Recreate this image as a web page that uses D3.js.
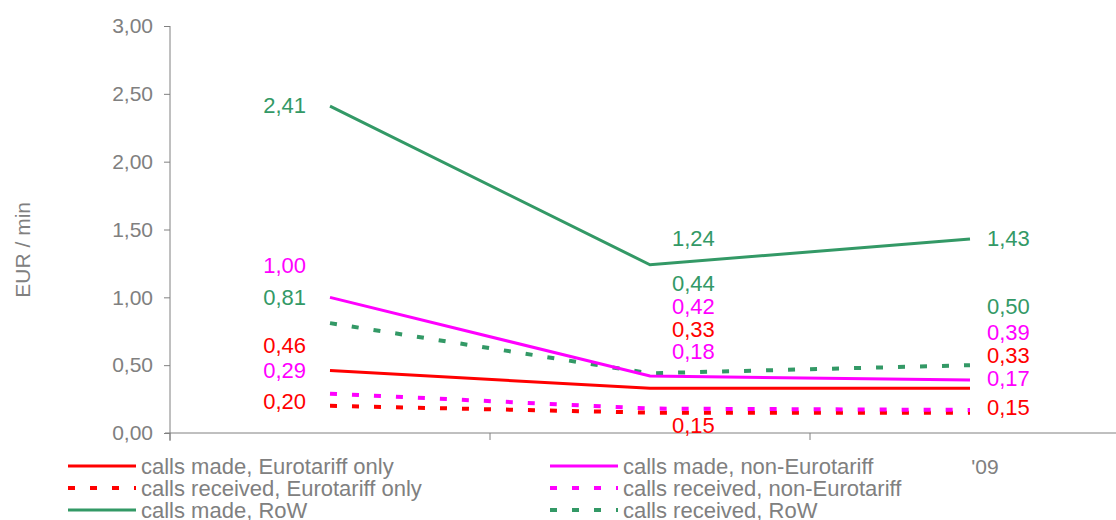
<!DOCTYPE html>
<html>
<head>
<meta charset="utf-8">
<script src="https://cdn.jsdelivr.net/npm/d3@7"></script>
<style>
  body { margin: 0; background: #fff; }
  text { font-family: "Liberation Sans", Arial, sans-serif; }
</style>
</head>
<body>
<div id="chart"></div>
<script>
// categories (only the last one is visible in the original, the others sit under the legend)
var categories = ["'07", "'08", "'09"];

var madeEuro = [0.46, 0.33, 0.33];
var receivedEuro = [0.20, 0.15, 0.15];
var madeNonEuro = [1.00, 0.42, 0.39];
var receivedNonEuro = [0.29, 0.18, 0.17];
var madeRow = [2.41, 1.24, 1.43];
var receivedRow = [0.81, 0.44, 0.50];

var seriesNames = [
  'calls made, Eurotariff only',
  'calls received, Eurotariff only',
  'calls made, RoW',
  'calls made, non-Eurotariff',
  'calls received, non-Eurotariff',
  'calls received, RoW'
];

var yTicks = [0, 0.5, 1, 1.5, 2, 2.5, 3];

var width = 1116,
    height = 520;

var palette = {
  red: '#ff0000',
  magenta: '#ff00ff',
  green: '#339966',
  gray: '#808080'
}

var series = [
  { name: seriesNames[0], values: madeEuro, color: palette.red, dashed: false },
  { name: seriesNames[1], values: receivedEuro, color: palette.red, dashed: true },
  { name: seriesNames[2], values: madeRow, color: palette.green, dashed: false },
  { name: seriesNames[3], values: madeNonEuro, color: palette.magenta, dashed: false },
  { name: seriesNames[4], values: receivedNonEuro, color: palette.magenta, dashed: true },
  { name: seriesNames[5], values: receivedRow, color: palette.green, dashed: true }
];

// label nudges (px) so stacked value labels don't collide, same order as series
var labelDy = [
  [-26, -59, -33],
  [-5, 12, -6],
  [-1, -27, -1],
  [-32, -70, -48],
  [-24, -58, -32],
  [-26, -90, -59]
];

var xScale = d3.scaleBand()
    .domain(categories)
    .range([170, 1130])
    .padding(0);

var yScale = d3.scaleLinear()
    .domain([0, 3])
    .range([433, 26]);

var svg = d3.select('#chart').append('svg')
    .attr('width', width)
    .attr('height', height)

// y axis
var yAxis = d3.axisLeft(yScale)
    .tickValues(yTicks)
    .tickSize(6)
    .tickPadding(11)
    .tickFormat(function(d) { return d3.format('.2f')(d).replace('.', ','); });

var gy = svg.append('g')
    .attr('transform', 'translate(' + xScale.range()[0] + ',0)')
    .call(yAxis);
gy.select('.domain').remove();
gy.selectAll('line').attr('stroke', palette.gray);
gy.selectAll('text')
    .attr('fill', palette.gray)
    .style('font-size', '21px');
gy.append('line')
    .attr('x1', 0).attr('x2', 0)
    .attr('y1', yScale(3)).attr('y2', yScale(0) + 8)
    .attr('stroke', palette.gray);

// x axis (ticks at the band edges)
var xEdges = categories.map(function(c) { return xScale(c); }).concat([xScale.range()[1]]);
svg.append('line')
    .attr('x1', xScale.range()[0] - 5).attr('x2', width)
    .attr('y1', yScale(0)).attr('y2', yScale(0))
    .attr('stroke', palette.gray);
svg.selectAll('.xtick')
    .data(xEdges)
    .enter()
    .append('line')
    .attr('class', 'xtick')
    .attr('x1', function(d) { return d; })
    .attr('x2', function(d) { return d; })
    .attr('y1', yScale(0))
    .attr('y2', yScale(0) + 7)
    .attr('stroke', palette.gray);

svg.append('text')
    .attr('transform', 'translate(30,' + (yScale(1.35)) + ') rotate(-90)')
    .attr('text-anchor', 'middle')
    .attr('fill', palette.gray)
    .style('font-size', '21px')
    .text('EUR / min');

var cx = function(i) { return xScale(categories[i]) + xScale.bandwidth() / 2; };

var line = d3.line()
    .x(function(d, i) { return cx(i); })
    .y(function(d) { return yScale(d); });

// dashed first, then solid on top
var drawOrder = [1, 4, 5, 0, 3, 2];
drawOrder.forEach(function(k) {
  var s = series[k];
  svg.append('path')
      .datum(s.values)
      .attr('d', line)
      .attr('fill', 'none')
      .attr('stroke', s.color)
      .attr('stroke-width', s.dashed ? 4 : 3)
      .attr('stroke-dasharray', s.dashed ? '7,15' : null);
});

// value labels
series.forEach(function(s, k) {
  s.values.forEach(function(v, i) {
    var first = i === 0;
    svg.append('text')
        .attr('x', first ? cx(i) - 24 : cx(i) + (i === 1 ? 22 : 17))
        .attr('y', yScale(v) + labelDy[k][i])
        .attr('dy', '0.36em')
        .attr('text-anchor', first ? 'end' : 'start')
        .attr('fill', s.color)
        .style('font-size', '22px')
        .text(d3.format('.2f')(v).replace('.', ','));
  });
});

// visible category label
svg.append('text')
    .attr('x', cx(2) + 15)
    .attr('y', 466)
    .attr('dy', '0.36em')
    .attr('text-anchor', 'middle')
    .attr('fill', palette.gray)
    .style('font-size', '21px')
    .text(categories[2]);

// legend
var legend = svg.selectAll('.legend')
    .data(series)
    .enter()
    .append('g')
    .attr('class', 'legend')
    .attr('transform', function(d, i) {
      var col = Math.floor(i / 3), row = i % 3;
      return 'translate(' + (col === 0 ? 68 : 550) + ',' + [466, 488, 510][row] + ')';
    });

legend.append('line')
    .attr('x1', 0).attr('x2', 68)
    .attr('y1', 0).attr('y2', 0)
    .attr('stroke', function(d) { return d.color; })
    .attr('stroke-width', function(d) { return d.dashed ? 4 : 3; })
    .attr('stroke-dasharray', function(d) { return d.dashed ? '7,15' : null; });

legend.append('text')
    .attr('x', 73)
    .attr('dy', '0.36em')
    .attr('fill', palette.gray)
    .style('font-size', '22px')
    .text(function(d) { return d.name; });
</script>
</body>
</html>
